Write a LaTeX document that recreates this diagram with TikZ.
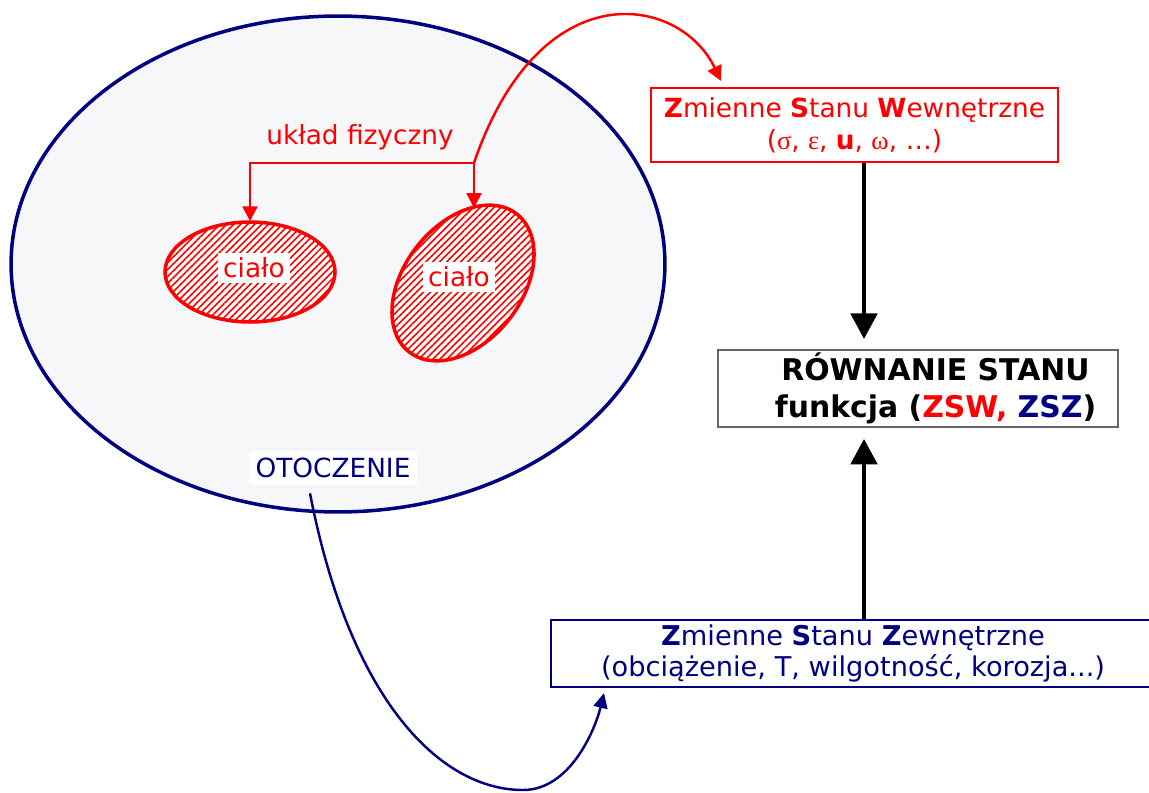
\documentclass[tikz,border=0pt]{standalone}
\usepackage{fontspec}
\setmainfont{DejaVu Sans}
\newfontfamily\grk{Liberation Serif}
\usetikzlibrary{positioning}
\usetikzlibrary{calc}
\usetikzlibrary{arrows.meta, shapes.geometric, patterns.meta}
\definecolor{navy}{RGB}{0,0,128}
\definecolor{envfill}{RGB}{247,247,250}
\tikzset{
	every node/.style={align=center,font=\fontsize{15pt}{18pt}\selectfont},
	redarrow/.style={-{Triangle[length=8.5pt,width=8.5pt]},red,line width=1.4pt},
	navyarrow/.style={-{Triangle[length=8.5pt,width=8pt]},navy,line width=1.4pt},
	bigarrow/.style={-{Triangle[length=14.5pt,width=15pt]},line width=2.3pt},
	body/.style={ellipse,draw=red,line width=2pt,minimum width=3.4cm,minimum height=2cm,preaction={fill=white},pattern={Lines[angle=45,distance=2.8pt,line width=0.9pt]},pattern color=red},
	bodylabel/.style={fill=white,text=red,inner sep=3pt},
	varbox/.style={draw,line width=1.2pt,inner sep=0pt}
}

\begin{document}
\begin{tikzpicture}[x=0.02cm,y=-0.02cm]
	\useasboundingbox (0,0) rectangle (1149,792);
	% Otoczenie
	\node (env) [ellipse, draw=navy, fill=envfill, line width=2pt, minimum width=13.08cm, minimum height=9.92cm] at (338,264) {};
	\node (env_lbl) [fill=white, text=navy, inner sep=4pt] at (333,468) {OTOCZENIE};

	\node (body1) [body] at (250,272) {};
	\node (body2) [body, rotate=52, minimum width=3.5cm, minimum height=2.35cm] at (463,283) {};
	\node (body1_lbl) [bodylabel] at (254,268) {ciało};
	\node (body2_lbl) [bodylabel] at (459,277) {ciało};
	\node (uklad) [text=red] at (360,137) {układ fizyczny};
	\coordinate (split) at (474,163);
	\coordinate (body2_top) at (474,208);
	\coordinate (axis) at (864,0);

	\node (zsw) [varbox, draw=red, text=red, minimum width=8.14cm, minimum height=1.48cm] at (854.5,125)
		{\textbf{Z}mienne \textbf{S}tanu \textbf{W}ewnętrzne\\({\grk σ}, {\grk ε}, \textbf{u}, {\grk ω}, …)};
	\node (eq) [varbox, draw=gray!80!black, line width=1.6pt, minimum width=8cm, minimum height=1.54cm, font=\bfseries\fontsize{17pt}{21pt}\selectfont] at (918,388.5)
		{\hspace*{0.7cm}RÓWNANIE STANU\\\hspace*{0.7cm}funkcja (\textcolor{red}{ZSW,} \textcolor{navy}{ZSZ})};
	\node (zsz) [varbox, draw=navy, text=navy, minimum width=12.08cm, minimum height=1.34cm, font=\fontsize{15.5pt}{18pt}\selectfont] at (853,653.5)
		{\textbf{Z}mienne \textbf{S}tanu \textbf{Z}ewnętrzne\\(obciążenie, T, wilgotność, korozja...)};

	\draw[redarrow] (split) -| (body1);
	\draw[redarrow] (split) -- (body2_top);
	\draw[redarrow] (split) .. controls (540,-30) and (680,-5) .. ($(zsw.north west)+(71,-6)$);
	\draw[navyarrow] ($(env_lbl.south)+(-23,8)$) .. controls (350,700) and (440,790) .. (523,790)
		.. controls (570,790) and (595,730) .. ($(zsz.south west)+(54,5)$);
	\draw[bigarrow, shorten >=5.5pt] (zsw.south -| axis) -- (eq.north -| axis);
	\draw[bigarrow, shorten >=6pt] (zsz.north -| axis) -- (eq.south -| axis);
\end{tikzpicture}
\end{document}
